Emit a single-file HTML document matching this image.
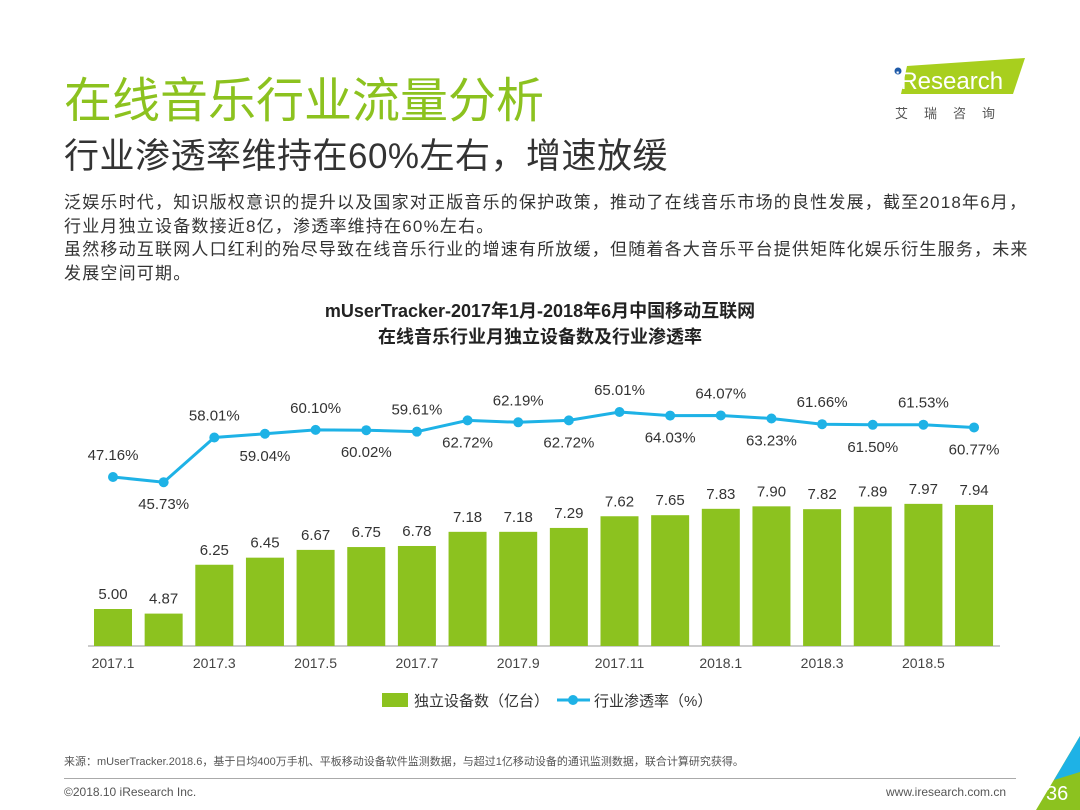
<!DOCTYPE html>
<html><head><meta charset="utf-8"><style>
body{margin:0;width:1080px;height:810px;background:#fff;font-family:"Liberation Sans","Noto Sans CJK SC",sans-serif;position:relative;overflow:hidden}
.a{position:absolute;white-space:nowrap}
</style></head><body>
<div class="a" style="left:64px;top:61px;font-size:48px;color:#8cc21f">在线音乐行业流量分析</div>
<div class="a" style="left:64px;top:128px;font-size:35px;color:#333;letter-spacing:0.5px">行业渗透率维持在60%左右，增速放缓</div>
<div class="a" style="left:893px;top:58px;width:135px;height:64px">
<svg width="135" height="64"><polygon points="14,8 132,0 120,36 8,36" fill="#a8cf1e"/><circle cx="5" cy="13" r="3.5" fill="#1f5aa8"/><text x="2" y="31" font-size="24" fill="#fff" font-family="Liberation Sans">iResearch</text><text x="2" y="60" font-size="13" fill="#555" letter-spacing="16">艾瑞咨询</text></svg></div>
<div class="a" style="left:64px;top:191px;font-size:17px;color:#333;line-height:23.5px;letter-spacing:1.2px">泛娱乐时代，知识版权意识的提升以及国家对正版音乐的保护政策，推动了在线音乐市场的良性发展，截至2018年6月，<br>行业月独立设备数接近8亿，渗透率维持在60%左右。<br>虽然移动互联网人口红利的殆尽导致在线音乐行业的增速有所放缓，但随着各大音乐平台提供矩阵化娱乐衍生服务，未来<br>发展空间可期。</div>
<div class="a" style="left:0;width:1080px;text-align:center;top:298px;font-size:18px;font-weight:bold;color:#222;line-height:26px">mUserTracker-2017年1月-2018年6月中国移动互联网<br>在线音乐行业月独立设备数及行业渗透率</div>
<svg class="a" style="left:0;top:0" width="1080" height="810" id="chart"></svg>
<div class="a" style="left:64px;top:753px;font-size:11px;color:#555">来源：mUserTracker.2018.6，基于日均400万手机、平板移动设备软件监测数据，与超过1亿移动设备的通讯监测数据，联合计算研究获得。</div>
<div class="a" style="left:64px;top:778px;width:952px;height:1px;background:#aaa"></div>
<div class="a" style="left:64px;top:785px;font-size:12px;color:#555">©2018.10 iResearch Inc.</div>
<div class="a" style="left:886px;top:785px;font-size:12px;color:#555">www.iresearch.com.cn</div>
<svg class="a" style="left:1026px;top:736px" width="54" height="74"><polygon points="54,0 54,74 10,74" fill="#8cc21f"/><polygon points="54,0 54,36 28,44" fill="#1eb2e6"/><text x="20" y="64" font-size="20" fill="#fff" font-family="Liberation Sans">36</text></svg>
<script>
const categories=["2017.1","2017.2","2017.3","2017.4","2017.5","2017.6","2017.7","2017.8","2017.9","2017.10","2017.11","2017.12","2018.1","2018.2","2018.3","2018.4","2018.5","2018.6"];
const devices=[5.00,4.87,6.25,6.45,6.67,6.75,6.78,7.18,7.18,7.29,7.62,7.65,7.83,7.90,7.82,7.89,7.97,7.94];
const penetration=[47.16,45.73,58.01,59.04,60.10,60.02,59.61,62.72,62.19,62.72,65.01,64.03,64.07,63.23,61.66,61.50,61.53,60.77];
const svg=document.getElementById('chart');const NS='http://www.w3.org/2000/svg';
function mk(t,a){const e=document.createElementNS(NS,t);for(const k in a)e.setAttribute(k,a[k]);svg.appendChild(e);return e;}
const x=i=>113+i*50.65;
const yb=v=>786-v*35.4;
const yl=v=>477+(47.16-v)*3.64;
let ax=mk('line',{x1:88,x2:1000,y1:646,y2:646,stroke:'#bbb','stroke-width':1.5});


devices.forEach((v,i)=>{
 let r=mk('rect',{x:x(i)-19,y:yb(v),width:38,height:646-yb(v),fill:'#8cc21f'});
 
 
 let t=mk('text',{x:x(i),y:yb(v)-10,'text-anchor':'middle','font-size':15,fill:'#333'});t.textContent=v.toFixed(2);
 
 
 if(i%2==0){let l=mk('text',{x:x(i),y:668,'text-anchor':'middle','font-size':14,fill:'#444'});l.textContent=categories[i];
 
 }
});
let pl=mk('polyline',{points:penetration.map((v,i)=>x(i)+','+yl(v)).join(' '),fill:'none',stroke:'#1eb2e6','stroke-width':3});


penetration.forEach((v,i)=>{
 let c=mk('circle',{cx:x(i),cy:yl(v),r:5,fill:'#1eb2e6'});
 
 
 let t=mk('text',{x:x(i),y:i%2==0?yl(v)-17:yl(v)+27,'text-anchor':'middle','font-size':15,fill:'#333'});t.textContent=v.toFixed(2)+'%';
 
 
});
let lg=mk('rect',{x:382,y:693,width:26,height:14,fill:'#8cc21f'});


let lt=mk('text',{x:414,y:706,'font-size':15,fill:'#333'});lt.textContent='独立设备数（亿台）';


let ll=mk('line',{x1:557,x2:590,y1:700,y2:700,stroke:'#1eb2e6','stroke-width':3});


let lc=mk('circle',{cx:573,cy:700,r:5,fill:'#1eb2e6'});


let lt2=mk('text',{x:594,y:706,'font-size':15,fill:'#333'});lt2.textContent='行业渗透率（%）';


</script>
</body></html>
